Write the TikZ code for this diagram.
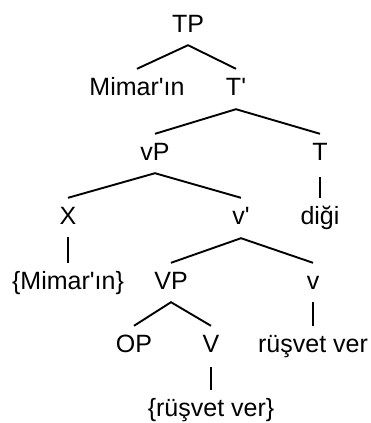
\documentclass[tikz,border=0pt]{standalone}
\usepackage{fontspec}
\setmainfont{Liberation Sans}
\begin{document}
\begin{tikzpicture}[x=1pt,y=1pt,
  lab/.style={inner sep=0pt,text height=18pt,text depth=0pt,anchor=base,font=\fontsize{25}{30}\selectfont},
  edge/.style={line width=1.9pt,line join=miter}]
\useasboundingbox (0,0) rectangle (370,-423);
\node[lab] (TP)   at (188,-32)  {TP};
\node[lab] (Mim)  at (137,-95)  {Mimar\textquotesingle ın};
\node[lab] (Tb)   at (236,-95)  {T\textquotesingle};
\node[lab] (vP)   at (155,-160) {vP};
\node[lab] (T)    at (320,-160) {T};
\node[lab] (X)    at (68,-224)  {X};
\node[lab] (vb)   at (241,-224) {v\textquotesingle};
\node[lab] (digi) at (320,-224) {diği};
\node[lab] (Mim2) at (68,-289)  {\{Mimar\textquotesingle ın\}};
\node[lab] (VP)   at (171,-289) {VP};
\node[lab] (v)    at (313,-289) {v};
\node[lab] (OP)   at (134,-352) {OP};
\node[lab] (V)    at (211,-352) {V};
\node[lab] (rv)   at (313,-352) {rüşvet ver};
\node[lab] (rv2)  at (211,-416) {\{rüşvet ver\}};

\draw[edge] ([yshift=8pt]Mim.north) -- ([yshift=-13pt]TP.south) -- ([yshift=8pt]Tb.north);
\draw[edge] ([yshift=8pt]vP.north) -- ([yshift=-14pt]Tb.south) -- ([yshift=8pt]T.north);
\draw[edge] ([yshift=8pt]X.north) -- ([yshift=-13pt]vP.south) -- ([yshift=8pt]vb.north);
\draw[edge] ([yshift=8pt]VP.north) -- ([yshift=-14pt]vb.south) -- ([yshift=8pt]v.north);
\draw[edge] ([yshift=8pt]OP.north) -- ([yshift=-13pt]VP.south) -- ([yshift=8pt]V.north);
\draw[edge] ([yshift=-17pt]T.south) -- ([yshift=8pt]digi.north);
\draw[edge] ([yshift=-13pt]X.south) -- ([yshift=8pt]Mim2.north);
\draw[edge] ([yshift=-13pt]v.south) -- ([yshift=8pt]rv.north);
\draw[edge] ([yshift=-15pt]V.south) -- ([yshift=8pt]rv2.north);
\end{tikzpicture}
\end{document}
